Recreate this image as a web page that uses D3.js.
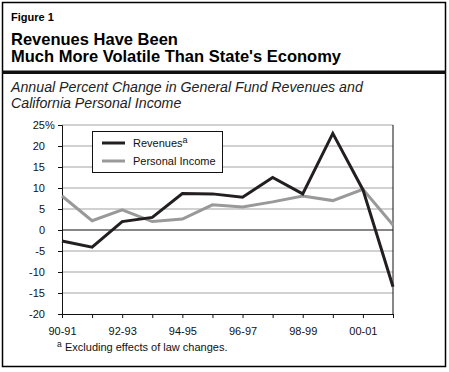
<!DOCTYPE html>
<html>
<head>
<meta charset="utf-8">
<script src="https://cdn.jsdelivr.net/npm/d3@7"></script>
<style>
  body { margin: 0; background: #fff; }
  svg { display: block; font-family: 'Liberation Sans', Arial, sans-serif; }
</style>
</head>
<body>
<svg id="chart" width="449" height="372"></svg>
<script>
'use strict';

// fiscal years on the x axis
const years = ['90-91', '91-92', '92-93', '93-94', '94-95', '95-96',
  '96-97', '97-98', '98-99', '99-00', '00-01', '01-02'];
// labels shown under the axis
const yearLabels = ['90-91', '92-93', '94-95', '96-97', '98-99', '00-01'];
// annual percent change, general fund revenues (excl. law changes)
const revenues = [-2.6, -4.1, 2.0, 3.0, 8.7, 8.6, 7.8, 12.5, 8.6, 23.0, 9.6, -13.5];
// annual percent change, California personal income
const personalIncome = [8.1, 2.2, 4.8, 2.0, 2.6, 6.0, 5.5, 6.7, 8.1, 7.0, 9.7, 1.2];
// y axis ticks
const yTicks = [-20, -15, -10, -5, 0, 5, 10, 15, 20, 25];

const svg = d3.select('#chart');
const plot = {left: 62, right: 393, top: 125, bottom: 314};

const x = d3.scalePoint().domain(years).range([plot.left, plot.right]);
const y = d3.scaleLinear().domain([-20, 25]).range([plot.bottom, plot.top]);

// outer frame and title block
svg.append('rect')
  .attr('x', 2.5).attr('y', 2.5)
  .attr('width', 443).attr('height', 364)
  .attr('fill', 'none').attr('stroke', '#000').attr('stroke-width', 1.5);

svg.append('rect')
  .attr('x', 2).attr('y', 70.5)
  .attr('width', 444).attr('height', 3.5)
  .attr('fill', '#111');

svg.append('text')
  .attr('x', 11).attr('y', 20.5)
  .attr('font-size', 11).attr('font-weight', 'bold')
  .text('Figure 1');

const title = ['Revenues Have Been', 'Much More Volatile Than State\'s Economy'];
svg.selectAll('text.title').data(title).enter()
  .append('text')
  .attr('class', 'title')
  .attr('x', 11)
  .attr('y', function(d, i) { return 44.5 + i * 17; })
  .attr('font-size', 16.5).attr('font-weight', 'bold')
  .text(function(d) { return d; });

const subtitle = ['Annual Percent Change in General Fund Revenues and',
  'California Personal Income'];
svg.selectAll('text.subtitle').data(subtitle).enter()
  .append('text')
  .attr('class', 'subtitle')
  .attr('x', 11)
  .attr('y', function(d, i) { return 92 + i * 15.5; })
  .attr('font-size', 14.2).attr('font-style', 'italic')
  .attr('fill', '#222')
  .text(function(d) { return d; });

// gridlines
svg.append('g')
  .selectAll('line')
  .data(yTicks.filter(function(d) { return d !== 0 && d !== -20; }))
  .enter()
  .append('line')
  .attr('x1', plot.left).attr('x2', plot.right)
  .attr('y1', function(d) { return y(d); })
  .attr('y2', function(d) { return y(d); })
  .attr('stroke', '#a3a3a3').attr('stroke-width', 1);

// zero line
svg.append('line')
  .attr('x1', plot.left).attr('x2', plot.right)
  .attr('y1', y(0)).attr('y2', y(0))
  .attr('stroke', '#111').attr('stroke-width', 1);

// right edge of plot
svg.append('line')
  .attr('x1', plot.right).attr('x2', plot.right)
  .attr('y1', plot.top).attr('y2', plot.bottom)
  .attr('stroke', '#111').attr('stroke-width', 1);

// y axis
const yAxis = svg.append('g')
  .attr('transform', 'translate(' + plot.left + ',0)')
  .call(d3.axisLeft(y).tickValues(yTicks).tickSize(4).tickPadding(13)
    .tickFormat(function(d) { return d; }));
yAxis.select('.domain').attr('stroke', '#111');
yAxis.selectAll('.tick line').attr('stroke', '#111');
yAxis.selectAll('text')
  .attr('font-family', 'Liberation Sans, Arial, sans-serif')
  .attr('font-size', 11).attr('fill', '#111');
// percent sign after the top label
svg.append('text')
  .attr('x', plot.left - 17).attr('y', y(25)).attr('dy', '0.32em')
  .attr('font-size', 11).attr('fill', '#111')
  .text('%');

// x axis
const xAxis = svg.append('g')
  .attr('transform', 'translate(0,' + plot.bottom + ')')
  .call(d3.axisBottom(x).tickSize(4).tickPadding(9)
    .tickSizeOuter(0)
    .tickFormat(function(d) { return yearLabels.indexOf(d) >= 0 ? d : ''; }));
xAxis.select('.domain').attr('stroke', '#111');
xAxis.selectAll('.tick line').attr('stroke', '#111');
xAxis.selectAll('text')
  .attr('font-family', 'Liberation Sans, Arial, sans-serif')
  .attr('font-size', 11).attr('fill', '#111');

// series lines
const line = d3.line()
  .x(function(d, i) { return x(years[i]); })
  .y(function(d) { return y(d); });

svg.append('path')
  .datum(personalIncome)
  .attr('d', line)
  .attr('fill', 'none')
  .attr('stroke', '#999')
  .attr('stroke-width', 3);

svg.append('path')
  .datum(revenues)
  .attr('d', line)
  .attr('fill', 'none')
  .attr('stroke', '#231f20')
  .attr('stroke-width', 3);

// legend
const legend = svg.append('g');
legend.append('rect')
  .attr('x', 92.5).attr('y', 131.5)
  .attr('width', 130).attr('height', 41)
  .attr('fill', '#fff').attr('stroke', '#111').attr('stroke-width', 1);

const legendItems = [
  {name: 'Revenues', sup: 'a', color: '#231f20'},
  {name: 'Personal Income', sup: '', color: '#999'}
];
const item = legend.selectAll('g.item').data(legendItems).enter()
  .append('g')
  .attr('class', 'item')
  .attr('transform', function(d, i) { return 'translate(0,' + (143 + i * 18) + ')'; });
item.append('line')
  .attr('x1', 102).attr('x2', 125)
  .attr('stroke', function(d) { return d.color; })
  .attr('stroke-width', 3);
const itemText = item.append('text')
  .attr('x', 133).attr('dy', '0.35em')
  .attr('font-size', 11).attr('fill', '#111');
itemText.append('tspan').text(function(d) { return d.name; });
itemText.append('tspan')
  .attr('dy', '-0.45em').attr('font-size', 9)
  .text(function(d) { return d.sup; });

// footnote
const note = svg.append('text')
  .attr('x', 57).attr('y', 350)
  .attr('font-size', 11).attr('fill', '#111');
note.append('tspan').attr('font-size', 8.5).attr('dy', '-0.35em').text('a');
note.append('tspan').attr('x', 65).attr('dy', '0.35em')
  .text('Excluding effects of law changes.');
</script>
</body>
</html>
